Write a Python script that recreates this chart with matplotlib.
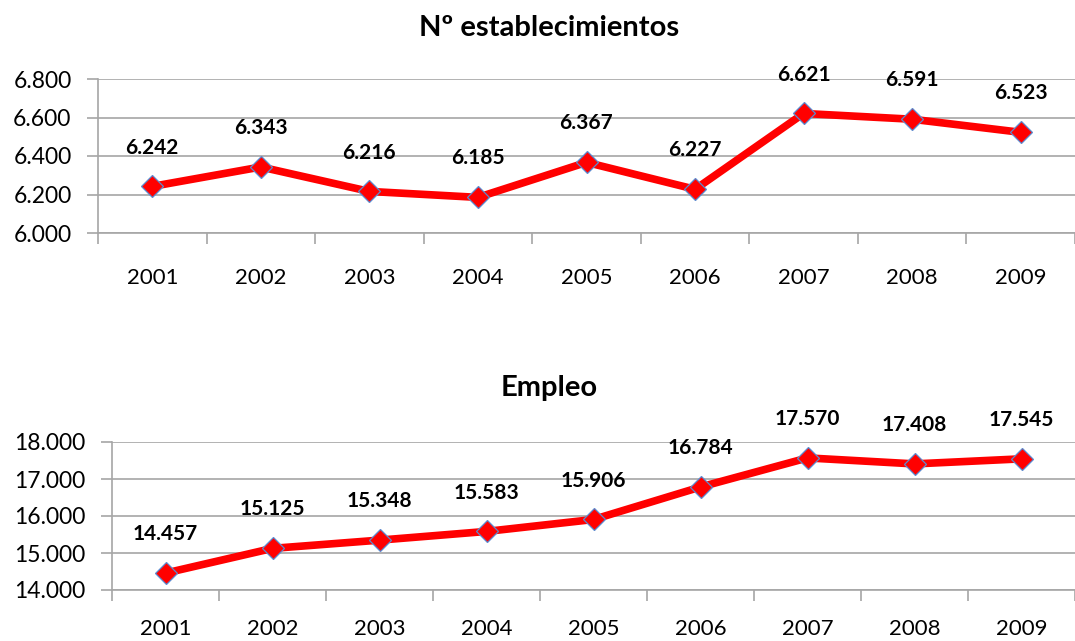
import matplotlib
matplotlib.use('Agg')
import matplotlib.pyplot as plt
from matplotlib.ticker import FuncFormatter, FixedLocator

plt.rcParams['font.family'] = ['Lato', 'DejaVu Sans']

years = ['2001', '2002', '2003', '2004', '2005', '2006', '2007', '2008', '2009']
establecimientos = [6242, 6343, 6216, 6185, 6367, 6227, 6621, 6591, 6523]
empleo = [14457, 15125, 15348, 15583, 15906, 16784, 17570, 17408, 17545]

est_ticks = [6000, 6200, 6400, 6600, 6800]
emp_ticks = [14000, 15000, 16000, 17000, 18000]


def miles(v, pos=None):
    return f'{v:,.0f}'.replace(',', '.')


fig = plt.figure(figsize=(10.75, 6.41), dpi=100)
fig.patch.set_facecolor('white')

ax1 = fig.add_axes([98 / 1075, 1 - 233 / 641, 1 - 98 / 1075, 154 / 641])
ax2 = fig.add_axes([112 / 1075, 1 - 590 / 641, 1 - 112 / 1075, 148 / 641])

grid_col = '#a6a6a6'

configs = [
    (ax1, establecimientos, est_ticks, (1075 - 153) / 109.4, 17),
    (ax2, empleo, emp_ticks, (1075 - 166) / 108.0, 13),
]

for ax, vals, ticks, xmax, xpad in configs:
    x = range(len(years))
    ax.plot(x, vals, color='#ff0000', linewidth=5.5, marker='D', markersize=11,
            markerfacecolor='#ff0000', markeredgecolor='#5b8bd0',
            markeredgewidth=0.9, zorder=3, clip_on=False)
    for xi, v in zip(x, vals):
        ax.annotate(miles(v), (xi, v), xytext=(0, 28), textcoords='offset points',
                    ha='center', va='center', fontsize=15, fontweight='bold',
                    color='black', zorder=4)

    ax.set_xlim(-0.5, xmax)
    ax.set_ylim(ticks[0], ticks[-1])
    ax.yaxis.set_major_locator(FixedLocator(ticks))
    ax.yaxis.set_major_formatter(FuncFormatter(miles))
    ax.grid(axis='y', color=grid_col, linewidth=1.2)
    ax.set_axisbelow(True)

    # category ticks between years, labels centered
    ax.set_xticks([i - 0.5 for i in range(len(years) + 1)])
    ax.set_xticklabels([])
    ax.set_xticks(list(range(len(years))), minor=True)
    ax.set_xticklabels(years, minor=True)
    ax.tick_params(axis='x', which='major', length=8, width=1.2, color=grid_col,
                   direction='out')
    ax.tick_params(axis='x', which='minor', length=0, pad=xpad + 8, labelsize=16)
    ax.tick_params(axis='y', length=8, width=1.2, color=grid_col,
                   direction='out', pad=11, labelsize=16.5)

    for side in ['top', 'right']:
        ax.spines[side].set_visible(False)
    for side in ['left', 'bottom']:
        ax.spines[side].set_color(grid_col)
        ax.spines[side].set_linewidth(1.2)

fig.text(549 / 1075, 1 - 28 / 641, 'Nº establecimientos', ha='center', va='center',
         fontsize=21, fontweight='bold')
fig.text(549 / 1075, 1 - 388 / 641, 'Empleo', ha='center', va='center',
         fontsize=21, fontweight='bold')

plt.savefig('out.png', dpi=100, facecolor='white')
